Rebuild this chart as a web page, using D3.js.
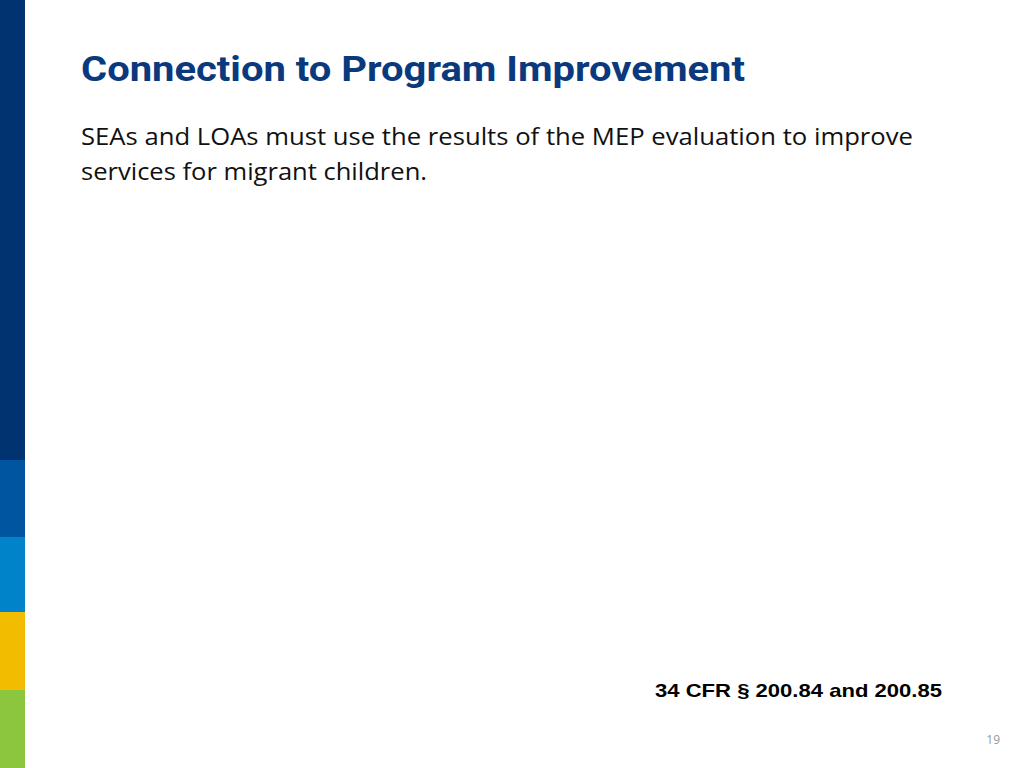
<!DOCTYPE html>
<html><head><meta charset="utf-8">
<script src="https://cdn.jsdelivr.net/npm/d3@7"></script>
<style>body{margin:0;background:#fff}</style>
</head><body>
<svg id="slide" width="1024" height="768"></svg>
<script>
// side bar bands (top edge in px of the 768 slide), colours
const bandStarts = [0, 460, 537, 612, 690];
const bandColors = ['#00336f', '#0055a0', '#0083c8', '#f2bd00', '#8cc63f'];
const title = 'Connection to Program Improvement';
const bodyLines = ['SEAs and LOAs must use the results of the MEP evaluation to improve',
                   'services for migrant children.'];
const bodyWidths = [832, 346];
const citation = '34 CFR § 200.84 and 200.85';
const pageNo = '19';

const svg = d3.select('#slide');
const y = d3.scaleLinear().domain([0, 768]).range([0, 768]);

svg.selectAll('rect.band')
  .data(bandStarts)
  .join('rect')
  .attr('x', 0)
  .attr('width', 25)
  .attr('y', d => y(d))
  .attr('height', (d, i) => y(bandStarts[i + 1] ?? 768) - y(d))
  .attr('fill', (d, i) => bandColors[i]);

svg.append('text')
  .attr('x', 81).attr('y', 81)
  .attr('font-family', 'Roboto, sans-serif').attr('font-weight', 'bold')
  .attr('font-size', 35).attr('fill', '#0a3a7d')
  .attr('textLength', 664).attr('lengthAdjust', 'spacingAndGlyphs')
  .text(title);

svg.selectAll('text.body')
  .data(bodyLines)
  .join('text')
  .attr('x', 81).attr('y', (d, i) => 145 + i * 35)
  .attr('font-family', '"Open Sans", sans-serif')
  .attr('font-size', 23).attr('fill', '#111')
  .attr('textLength', (d, i) => bodyWidths[i]).attr('lengthAdjust', 'spacingAndGlyphs')
  .text(d => d);

svg.append('text')
  .attr('x', 655).attr('y', 697)
  .attr('font-family', '"Liberation Sans", Arial, sans-serif').attr('font-weight', 'bold')
  .attr('font-size', 19).attr('fill', '#000')
  .attr('textLength', 287).attr('lengthAdjust', 'spacingAndGlyphs')
  .text(citation);

svg.append('text')
  .attr('x', 1000).attr('y', 744).attr('text-anchor', 'end')
  .attr('font-family', '"Open Sans", sans-serif')
  .attr('font-size', 12).attr('fill', '#999')
  .text(pageNo);
</script>
</body></html>
